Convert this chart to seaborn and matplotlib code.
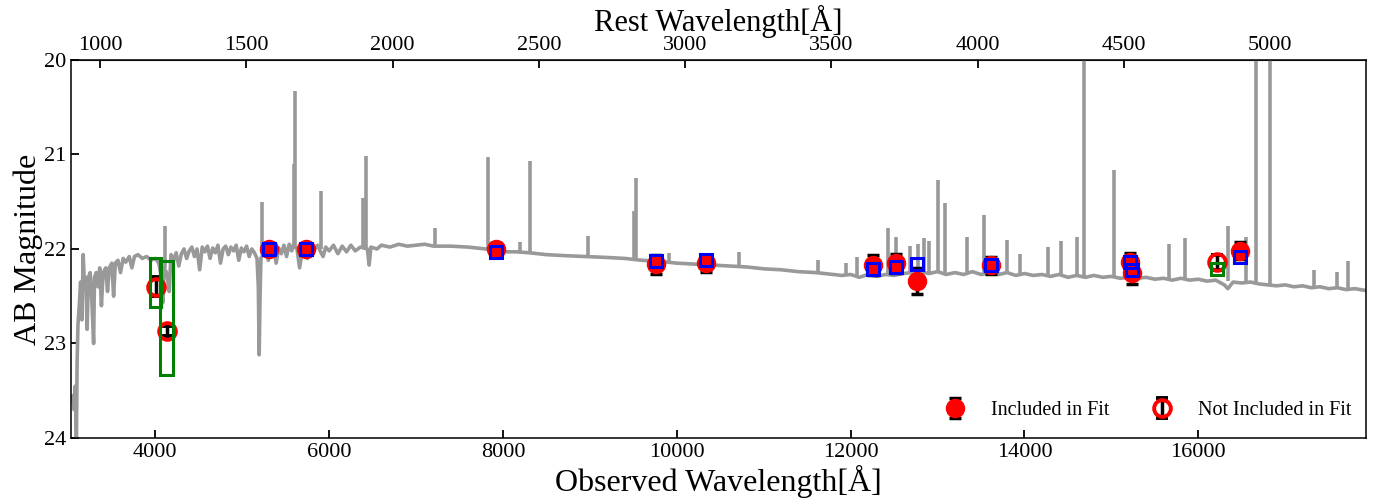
import matplotlib
matplotlib.use('Agg')
import matplotlib.pyplot as plt
import pandas as pd
import seaborn as sns

# redshift used for the rest-frame axis
one_plus_z = 3.365

# spectrum continuum (observed wavelength, AB mag)
spec_wave = [3035, 3050, 3065, 3080, 3092, 3100, 3110, 3125, 3140, 3155,
             3170, 3185, 3200, 3215, 3230, 3250, 3270, 3290, 3300, 3320,
             3340, 3360, 3380, 3400, 3430, 3450, 3470, 3500, 3520, 3540,
             3570, 3600, 3630, 3660, 3700, 3730, 3760, 3800, 3850, 3900,
             3950, 4000, 4040, 4070, 4085, 4100, 4130, 4160, 4180, 4210,
             4240, 4270, 4300, 4330, 4360, 4390, 4420, 4450, 4480, 4510,
             4540, 4570, 4600, 4630, 4660, 4690, 4720, 4750, 4780, 4810,
             4840, 4870, 4900, 4930, 4960, 4990, 5020, 5050, 5080, 5110,
             5140, 5170, 5185, 5195, 5205, 5215, 5240, 5270, 5300, 5330,
             5360, 5390, 5420, 5450, 5480, 5510, 5540, 5570, 5590, 5630,
             5660, 5690, 5720, 5750, 5780, 5810, 5840, 5870, 5900, 5930,
             5960, 6000, 6050, 6100, 6150, 6200, 6250, 6300, 6360, 6440,
             6460, 6480, 6550, 6600, 6700, 6800, 6900, 7000, 7100, 7200,
             7400, 7600, 7800, 7900, 8000, 8150, 8300, 8500, 8700, 8950,
             9200, 9400, 9600, 9800, 10000, 10200, 10400, 10600, 10800, 11000,
             11200, 11400, 11600, 11700, 11800, 11900, 12000, 12100, 12200, 12300,
             12400, 12500, 12600, 12700, 12800, 12900, 13000, 13100, 13200, 13300,
             13400, 13500, 13600, 13700, 13800, 13900, 14000, 14100, 14200, 14300,
             14400, 14500, 14600, 14700, 14800, 14900, 15000, 15100, 15200, 15300,
             15400, 15500, 15600, 15700, 15800, 15900, 16000, 16100, 16200, 16300,
             16340, 16400, 16500, 16600, 16700, 16800, 16900, 17000, 17100, 17200,
             17300, 17400, 17500, 17600, 17700, 17800, 17930]
spec_mag = [23.60, 23.55, 23.70, 23.45, 24.05, 23.20, 22.80, 22.60, 22.35, 22.75,
            22.06, 22.40, 22.30, 22.85, 22.30, 22.25, 22.55, 23.00, 22.30, 22.25,
            22.40, 22.20, 22.60, 22.25, 22.20, 22.45, 22.20, 22.15, 22.50, 22.15,
            22.12, 22.25, 22.10, 22.14, 22.08, 22.20, 22.08, 22.06, 22.10, 22.08,
            22.12, 22.10, 22.15, 22.30, 22.57, 22.20, 22.25, 22.45, 22.06, 22.12,
            22.04, 22.18, 22.05, 22.00, 22.10, 22.02, 21.98, 22.08, 22.00, 22.22,
            21.98, 22.03, 21.97, 22.10, 21.99, 22.04, 21.96, 22.15, 22.00, 21.97,
            22.06, 21.98, 22.02, 21.96, 22.12, 21.99, 22.03, 21.97, 22.08, 22.00,
            22.04, 22.10, 22.40, 23.12, 22.50, 22.10, 22.05, 22.00, 22.12, 22.02,
            21.98, 22.15, 21.99, 22.05, 21.96, 22.08, 21.95, 22.02, 21.95, 22.00,
            22.20, 22.02, 21.98, 22.10, 21.97, 22.05, 21.99, 21.96, 22.03, 22.08,
            21.98, 22.02, 21.96, 22.05, 21.97, 22.03, 21.96, 22.02, 21.98, 22.00,
            22.17, 21.98, 22.00, 21.96, 21.98, 21.95, 21.97, 21.96, 21.95, 21.97,
            21.97, 21.98, 22.00, 22.01, 22.03, 22.03, 22.04, 22.06, 22.07, 22.08,
            22.09, 22.10, 22.12, 22.13, 22.15, 22.16, 22.17, 22.18, 22.19, 22.21,
            22.22, 22.24, 22.25, 22.26, 22.27, 22.28, 22.27, 22.30, 22.27, 22.29,
            22.27, 22.28, 22.26, 22.25, 22.24, 22.26, 22.24, 22.27, 22.25, 22.27,
            22.24, 22.27, 22.25, 22.27, 22.25, 22.28, 22.26, 22.28, 22.27, 22.29,
            22.27, 22.30, 22.28, 22.30, 22.28, 22.30, 22.29, 22.31, 22.30, 22.31,
            22.30, 22.32, 22.31, 22.33, 22.31, 22.33, 22.32, 22.34, 22.33, 22.38,
            22.42, 22.35, 22.36, 22.35, 22.37, 22.38, 22.39, 22.38, 22.40, 22.39,
            22.41, 22.40, 22.42, 22.41, 22.43, 22.42, 22.44]

# emission lines: wavelength, continuum level below, peak level
line_wave = [3172, 4115, 5225, 5598, 5612, 5905, 6385, 6425, 7215, 7825, 8200, 8315, 8980,
             9510, 9530, 9910, 10720, 11620, 11950, 12070, 12430, 12520, 12680, 12770, 12840,
             12900, 13010, 13080, 13340, 13540, 13800, 13950, 14270, 14420, 14600, 14680,
             15030, 15660, 15845, 16340, 16545, 16660, 16820, 17330, 17600, 17720]
line_base = [22.40, 22.20, 22.05, 22.00, 22.00, 22.00, 22.00, 22.00, 21.97, 22.00, 22.03,
             22.04, 22.08, 22.10, 22.10, 22.14, 22.19, 22.25, 22.27, 22.28, 22.28, 22.27,
             22.27, 22.26, 22.25, 22.25, 22.24, 22.25, 22.25, 22.26, 22.25, 22.26, 22.28,
             22.27, 22.29, 22.29, 22.29, 22.31, 22.32, 22.34, 22.35, 22.36, 22.37, 22.40,
             22.42, 22.42]
line_peak = [22.06, 21.76, 21.50, 21.10, 20.33, 21.39, 21.46, 21.02, 21.78, 21.03, 21.93,
             21.07, 21.86, 21.60, 21.25, 22.04, 22.03, 22.12, 22.15, 22.08, 21.78, 21.87,
             21.97, 21.95, 21.88, 21.92, 21.27, 21.51, 21.87, 21.64, 21.90, 22.05, 21.98,
             21.92, 21.87, 19.80, 21.16, 21.95, 21.88, 21.76, 21.87, 19.80, 19.80, 22.22,
             22.24, 22.13]

# photometry
phot_wave = [4012, 4134, 5310, 5735, 7920, 9760, 10335, 12255, 12520, 12760, 13610, 15215,
             15240, 16210, 16485]
phot_mag = [22.40, 22.87, 22.00, 22.00, 22.00, 22.16, 22.15, 22.17, 22.15, 22.34, 22.17,
            22.14, 22.25, 22.14, 22.02]
phot_err = [0.10, 0.05, 0.03, 0.04, 0.06, 0.10, 0.09, 0.11, 0.10, 0.14, 0.09, 0.10, 0.12,
            0.08, 0.09]
in_fit = [False, False, True, True, True, True, True, True, True, True, True, True, True,
          False, True]

# model photometry
model_fit_wave = [5310, 5735, 7920, 9760, 10335, 12255, 12520, 12760, 13610, 15215, 15240, 16485]
model_fit_mag = [22.00, 22.00, 22.03, 22.13, 22.12, 22.21, 22.19, 22.16, 22.17, 22.14, 22.22, 22.09]
model_out_wave = [16210]
model_out_mag = [22.21]
box_wave = [4005, 4132]
box_width = [126, 148]
box_lo = [22.10, 22.13]
box_hi = [22.61, 23.33]

sns.set_style('ticks')
plt.rcParams['font.family'] = ['Liberation Serif', 'DejaVu Serif']
plt.rcParams['text.color'] = 'black'
plt.rcParams['axes.labelcolor'] = 'black'

fig = plt.figure(figsize=(13.87, 5.04), dpi=100)
ax = fig.add_axes([0.0512, 0.131, 0.9337, 0.750])

spec = pd.DataFrame({'wave': spec_wave, 'mag': spec_mag})
sns.lineplot(data=spec, x='wave', y='mag', color='#999999', lw=2.6, ax=ax, zorder=1)
ax.vlines(line_wave, line_base, line_peak, color='#999999', lw=2.6, zorder=1)

phot = pd.DataFrame({'wave': phot_wave, 'mag': phot_mag, 'err': phot_err, 'fit': in_fit})
inc = phot[phot['fit']]
exc = phot[~phot['fit']]
ax.errorbar(inc['wave'], inc['mag'], yerr=inc['err'], fmt='o', ms=13, color='red', mec='red',
            ecolor='black', elinewidth=2.5, capsize=4.5, capthick=2.5, zorder=3,
            label='Included in Fit')
ax.errorbar(exc['wave'], exc['mag'], yerr=exc['err'], fmt='o', ms=12, mfc='none', mec='red',
            mew=2.8, ecolor='black', elinewidth=2.5, capsize=4.5, capthick=2.5, zorder=3,
            label='Not Included in Fit')

ax.plot(model_fit_wave, model_fit_mag, 's', ms=8.5, mfc='none', mec='blue', mew=2.2, zorder=4)
ax.plot(model_out_wave, model_out_mag, 's', ms=8.5, mfc='none', mec='green', mew=2.2, zorder=4)
ax.bar(box_wave, [h - l for h, l in zip(box_hi, box_lo)], bottom=box_lo, width=box_width,
       fill=False, edgecolor='green', lw=2.2, zorder=4)

ax.set_xlim(3030, 17930)
ax.set_ylim(24, 20)
ax.set_yticks([20, 21, 22, 23, 24])
ax.set_xticks([4000, 6000, 8000, 10000, 12000, 14000, 16000])
ax.set_xlabel('Observed Wavelength[Å]', fontsize=23, labelpad=2)
ax.set_ylabel('AB Magnitude', fontsize=23, labelpad=1)
ax.tick_params(direction='in', length=6, width=1.3, labelsize=16, colors='black')
for s in ax.spines.values():
    s.set_color('black')
    s.set_linewidth(1.1)

secax = ax.secondary_xaxis('top', functions=(lambda x: x / one_plus_z, lambda x: x * one_plus_z))
secax.set_xticks(range(1000, 5001, 500))
secax.set_xlabel('Rest Wavelength[Å]', fontsize=22, labelpad=4)
secax.tick_params(direction='in', length=6, width=1.3, labelsize=16, colors='black')

ax.legend(loc='lower right', ncol=2, frameon=False, fontsize=14.5, columnspacing=1.6,
          handletextpad=0.8, bbox_to_anchor=(1.003, 0.0))

fig.savefig('out.png', dpi=100)
